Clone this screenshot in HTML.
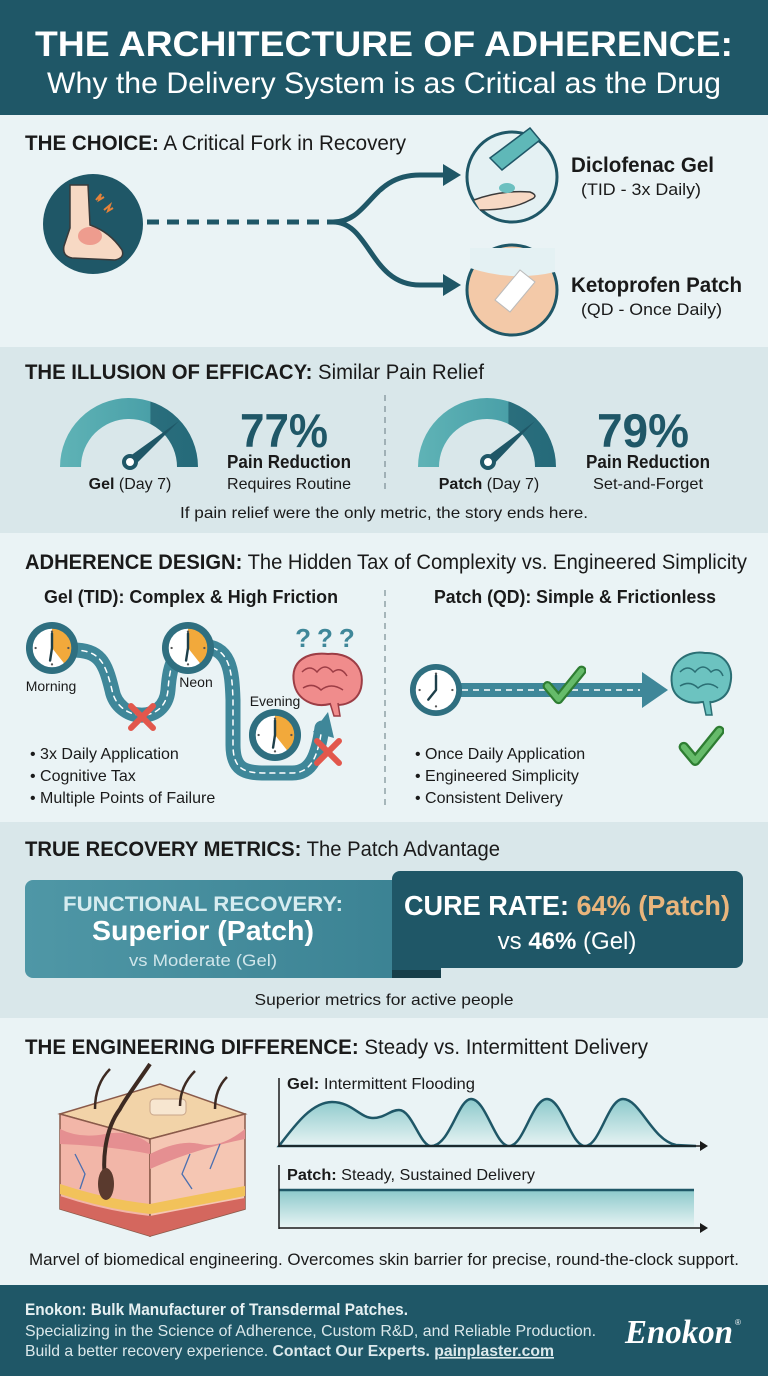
<!DOCTYPE html>
<html><head><meta charset="utf-8"><style>
html,body{margin:0;padding:0;background:#eaf3f5}
svg{display:block}
text{font-family:"Liberation Sans",sans-serif}
</style></head><body>
<svg width="768" height="1376" viewBox="0 0 768 1376" xmlns="http://www.w3.org/2000/svg">
<defs>
<linearGradient id="gg" x1="0" x2="1" y1="0" y2="0"><stop offset="0" stop-color="#5fb3b6"/><stop offset="0.65" stop-color="#4aa0a8"/><stop offset="0.66" stop-color="#2a6e7c"/><stop offset="1" stop-color="#256a7a"/></linearGradient>
<linearGradient id="fillg" x1="0" x2="0" y1="0" y2="1"><stop offset="0" stop-color="#8cc9cb"/><stop offset="1" stop-color="#e6f3f3"/></linearGradient>
<linearGradient id="lb" x1="0" x2="1" y1="0" y2="0"><stop offset="0" stop-color="#4f97a6"/><stop offset="1" stop-color="#3b8293"/></linearGradient>
<symbol id="clk" viewBox="-28 -28 56 56">
<circle r="27" fill="#2f6f80"/><circle r="21" fill="#fff"/>
<path d="M0,0 L0,-21 A21,21 0 0 1 13,16.5 Z" fill="#f2a93b"/>
<circle r="21" fill="none" stroke="#2f6f80" stroke-width="2"/>
<path d="M0,0 L0,-15 M0,0 L-2,13" stroke="#1e3f4a" stroke-width="2.5" stroke-linecap="round"/>
<g fill="#555"><circle cx="0" cy="-17" r="1.2"/><circle cx="17" cy="0" r="1.2"/><circle cx="0" cy="17" r="1.2"/><circle cx="-17" cy="0" r="1.2"/></g>
</symbol>
<symbol id="clkw" viewBox="-28 -28 56 56">
<circle r="27" fill="#2f6f80"/><circle r="21" fill="#fff"/>
<path d="M0,0 L0,-15 M0,0 L-8,10" stroke="#1e3f4a" stroke-width="2.5" stroke-linecap="round"/>
<g fill="#555"><circle cx="0" cy="-17" r="1.2"/><circle cx="17" cy="0" r="1.2"/><circle cx="0" cy="17" r="1.2"/><circle cx="-17" cy="0" r="1.2"/></g>
</symbol>
<symbol id="xx" viewBox="-15 -15 30 30"><path d="M-11,-11 L11,11 M11,-11 L-11,11" stroke="#e2574c" stroke-width="6" stroke-linecap="round"/></symbol>
<symbol id="ck" viewBox="-20 -20 40 40"><path d="M-15,0 L-5,12 L16,-14" fill="none" stroke="#2e7d32" stroke-width="9" stroke-linecap="round" stroke-linejoin="round"/><path d="M-15,0 L-5,12 L16,-14" fill="none" stroke="#66bb6a" stroke-width="5" stroke-linecap="round" stroke-linejoin="round"/></symbol>
</defs>

<rect width="768" height="1376" fill="#eaf3f5"/>
<rect width="768" height="115" fill="#1f5767"/>
<rect x="0" y="347" width="768" height="186" fill="#d9e7ea"/>
<rect x="0" y="822" width="768" height="196" fill="#d9e7ea"/>
<rect x="0" y="1285" width="768" height="91" fill="#1f5767"/>

<text x="384" y="56" text-anchor="middle" font-size="35" font-weight="bold" fill="#fff" textLength="698" lengthAdjust="spacingAndGlyphs">THE ARCHITECTURE OF ADHERENCE:</text>
<text x="384" y="93" text-anchor="middle" font-size="30" fill="#fff" textLength="674" lengthAdjust="spacingAndGlyphs">Why the Delivery System is as Critical as the Drug</text>

<text x="25" y="150" font-size="21" fill="#1a1a1a" textLength="381" lengthAdjust="spacingAndGlyphs"><tspan font-weight="bold">THE CHOICE:</tspan> A Critical Fork in Recovery</text>
<circle cx="93" cy="224" r="50" fill="#1f5767"/>
<path d="M70,185 L88,185 L90,225 Q110,232 122,250 Q125,258 115,260 L72,258 Q62,256 64,246 L70,228 Z" fill="#f7d9c4" stroke="#3a3a3a" stroke-width="1.5"/>
<ellipse cx="90" cy="236" rx="12" ry="9" fill="#e8736a" opacity="0.6"/>
<path d="M96,200 l5,-6 l-2,6 l5,-3 M104,210 l6,-5 l-2,6 l5,-3" stroke="#e5823a" stroke-width="2" fill="none"/>
<line x1="147" y1="222" x2="333" y2="222" stroke="#1f5767" stroke-width="5" stroke-dasharray="12 8"/>
<path d="M333,222 C370,222 370,175 420,175 L445,175 M333,222 C370,222 370,285 420,285 L445,285" fill="none" stroke="#1f5767" stroke-width="5"/>
<polygon points="443,164 461,175 443,186" fill="#1f5767"/>
<polygon points="443,274 461,285 443,296" fill="#1f5767"/>
<circle cx="512" cy="177" r="45" fill="#e4f1f3" stroke="#1f5767" stroke-width="3"/>
<path d="M490,158 L530,128 L540,140 L502,170 Z" fill="#5fb8b8" stroke="#1f5767" stroke-width="1.5"/>
<path d="M474,200 Q500,190 530,192 Q540,196 530,200 Q512,210 480,210" fill="#f7d9c4" stroke="#3a3a3a" stroke-width="1.5"/>
<ellipse cx="507" cy="188" rx="8" ry="5" fill="#6cc0c0"/>
<circle cx="512" cy="290" r="45" fill="#f3c9a8" stroke="#1f5767" stroke-width="3"/>
<path d="M470,268 Q512,282 555,272 L555,248 L470,248 Z" fill="#e4f1f3"/>
<path d="M495,300 L520,270 L535,282 L510,312 Z" fill="#fff" stroke="#bbb"/>
<text x="571" y="172" font-size="21" font-weight="bold" fill="#1a1a1a" textLength="143" lengthAdjust="spacingAndGlyphs">Diclofenac Gel</text>
<text x="581" y="195" font-size="17" fill="#1a1a1a" textLength="120" lengthAdjust="spacingAndGlyphs">(TID - 3x Daily)</text>
<text x="571" y="292" font-size="21" font-weight="bold" fill="#1a1a1a" textLength="171" lengthAdjust="spacingAndGlyphs">Ketoprofen Patch</text>
<text x="581" y="315" font-size="17" fill="#1a1a1a" textLength="141" lengthAdjust="spacingAndGlyphs">(QD - Once Daily)</text>

<text x="25" y="379" font-size="21" fill="#1a1a1a" textLength="459" lengthAdjust="spacingAndGlyphs"><tspan font-weight="bold">THE ILLUSION OF EFFICACY:</tspan> Similar Pain Relief</text>
<path d="M60,467 A69,69 0 0 1 198,467 L177,467 A48,48 0 0 0 81,467 Z" fill="url(#gg)"/>
<polygon points="126,459 179,421 134,466" fill="#1f5767"/>
<circle cx="130" cy="462" r="6" fill="#fff" stroke="#1f5767" stroke-width="4"/>
<text x="130" y="489" text-anchor="middle" font-size="16" fill="#1a1a1a"><tspan font-weight="bold">Gel</tspan> (Day 7)</text>
<text x="284" y="447" text-anchor="middle" font-size="47" font-weight="bold" fill="#1f5767" textLength="88" lengthAdjust="spacingAndGlyphs">77%</text>
<text x="289" y="468" text-anchor="middle" font-size="18" font-weight="bold" fill="#1a1a1a" textLength="124" lengthAdjust="spacingAndGlyphs">Pain Reduction</text>
<text x="289" y="489" text-anchor="middle" font-size="16" fill="#1a1a1a" textLength="124" lengthAdjust="spacingAndGlyphs">Requires Routine</text>
<line x1="385" y1="395" x2="385" y2="492" stroke="#7a8d93" stroke-width="1.2" stroke-dasharray="6 5"/>
<path d="M418,467 A69,69 0 0 1 556,467 L535,467 A48,48 0 0 0 439,467 Z" fill="url(#gg)"/>
<polygon points="484,459 535,421 492,466" fill="#1f5767"/>
<circle cx="488" cy="462" r="6" fill="#fff" stroke="#1f5767" stroke-width="4"/>
<text x="489" y="489" text-anchor="middle" font-size="16" fill="#1a1a1a"><tspan font-weight="bold">Patch</tspan> (Day 7)</text>
<text x="643" y="447" text-anchor="middle" font-size="47" font-weight="bold" fill="#1f5767" textLength="92" lengthAdjust="spacingAndGlyphs">79%</text>
<text x="648" y="468" text-anchor="middle" font-size="18" font-weight="bold" fill="#1a1a1a" textLength="124" lengthAdjust="spacingAndGlyphs">Pain Reduction</text>
<text x="648" y="489" text-anchor="middle" font-size="16" fill="#1a1a1a" textLength="110" lengthAdjust="spacingAndGlyphs">Set-and-Forget</text>
<text x="384" y="518" text-anchor="middle" font-size="16" fill="#1a1a1a" textLength="408" lengthAdjust="spacingAndGlyphs">If pain relief were the only metric, the story ends here.</text>

<text x="25" y="569" font-size="21" fill="#1a1a1a" textLength="722" lengthAdjust="spacingAndGlyphs"><tspan font-weight="bold">ADHERENCE DESIGN:</tspan> The Hidden Tax of Complexity vs. Engineered Simplicity</text>
<text x="191" y="603" text-anchor="middle" font-size="18" font-weight="bold" fill="#1a1a1a" textLength="294" lengthAdjust="spacingAndGlyphs">Gel (TID): Complex &amp; High Friction</text>
<text x="575" y="603" text-anchor="middle" font-size="18" font-weight="bold" fill="#1a1a1a" textLength="282" lengthAdjust="spacingAndGlyphs">Patch (QD): Simple &amp; Frictionless</text>
<line x1="385" y1="590" x2="385" y2="808" stroke="#7a8d93" stroke-width="1.2" stroke-dasharray="6 5"/>
<g fill="none" stroke-linecap="round" stroke-linejoin="round">
<path d="M72,650 C100,650 105,662 112,690 C118,722 165,725 168,690 C170,662 175,648 200,646 C230,646 232,670 233,700 L233,745 C233,770 245,773 265,773 L292,773 C312,773 318,755 322,728" stroke="#3f8799" stroke-width="15"/>
<path d="M72,650 C100,650 105,662 112,690 C118,722 165,725 168,690 C170,662 175,648 200,646 C230,646 232,670 233,700 L233,745 C233,770 245,773 265,773 L292,773 C312,773 318,755 322,728" stroke="#fff" stroke-width="1.5" stroke-dasharray="5 5"/>
</g>
<polygon points="313,732 328,712 334,738" fill="#3f8799"/>
<use href="#clk" x="25" y="621" width="54" height="54"/>
<use href="#clk" x="161" y="621" width="54" height="54"/>
<use href="#clk" x="248" y="708" width="54" height="54"/>
<text x="51" y="691" text-anchor="middle" font-size="14" fill="#1a1a1a">Morning</text>
<text x="196" y="687" text-anchor="middle" font-size="14" fill="#1a1a1a">Neon</text>
<text x="275" y="706" text-anchor="middle" font-size="14" fill="#1a1a1a">Evening</text>
<use href="#xx" x="127" y="702" width="30" height="30"/>
<use href="#xx" x="313" y="737" width="30" height="30"/>
<g>
<path d="M294,683 C290,660 308,652 328,654 C348,652 366,665 361,688 C357,703 342,707 330,704 C314,708 297,700 294,683 Z" fill="#f08c8c" stroke="#9c3d45" stroke-width="2"/>
<path d="M302,672 q8,-8 15,0 q8,-10 16,0 q8,-6 14,4 M303,688 q10,-6 18,2 q10,-8 22,0" fill="none" stroke="#9c3d45" stroke-width="1.5"/>
<path d="M330,703 l4,13 l6,0 l-2,-13" fill="#f08c8c" stroke="#9c3d45" stroke-width="1.5"/>
</g>
<text x="328" y="647" text-anchor="middle" font-size="26" font-weight="bold" fill="#3f8799" letter-spacing="6">???</text>
<g font-size="16" fill="#1a1a1a">
<text x="30" y="759">• 3x Daily Application</text>
<text x="30" y="781">• Cognitive Tax</text>
<text x="30" y="803">• Multiple Points of Failure</text>
<text x="415" y="759">• Once Daily Application</text>
<text x="415" y="781">• Engineered Simplicity</text>
<text x="415" y="803">• Consistent Delivery</text>
</g>
<rect x="460" y="683" width="185" height="14" fill="#3f8799"/>
<polygon points="642,672 668,690 642,708" fill="#3f8799"/>
<line x1="462" y1="690" x2="640" y2="690" stroke="#fff" stroke-width="1.5" stroke-dasharray="6 5"/>
<use href="#clkw" x="409" y="663" width="54" height="54"/>
<use href="#ck" x="542" y="664" width="44" height="44"/>
<g>
<path d="M672,685 C668,660 690,650 705,653 C722,652 735,665 730,685 C727,700 712,704 702,702 C688,705 674,698 672,685 Z" fill="#6cc3c0" stroke="#2b6f74" stroke-width="2"/>
<path d="M680,672 q8,-8 15,0 q8,-10 16,0 q8,-6 12,4 M680,686 q10,-6 18,2 q10,-8 20,0" fill="none" stroke="#2b6f74" stroke-width="1.5"/>
<path d="M703,701 l3,14 l6,0 l-2,-14" fill="#6cc3c0" stroke="#2b6f74" stroke-width="1.5"/>
</g>
<use href="#ck" x="678" y="724" width="46" height="46"/>

<text x="25" y="856" font-size="21" fill="#1a1a1a" textLength="475" lengthAdjust="spacingAndGlyphs"><tspan font-weight="bold">TRUE RECOVERY METRICS:</tspan> The Patch Advantage</text>
<rect x="25" y="880" width="380" height="98" rx="8" fill="url(#lb)"/>
<polygon points="392,960 441,968 441,978 392,978" fill="#173f4a"/>
<rect x="392" y="871" width="351" height="97" rx="8" fill="#1f5767"/>
<rect x="392" y="940" width="49" height="30" fill="#1f5767"/>
<text x="203" y="911" text-anchor="middle" font-size="21" font-weight="bold" fill="#d6ecf0" textLength="280" lengthAdjust="spacingAndGlyphs">FUNCTIONAL RECOVERY:</text>
<text x="203" y="940" text-anchor="middle" font-size="28" font-weight="bold" fill="#fff" textLength="222" lengthAdjust="spacingAndGlyphs">Superior (Patch)</text>
<text x="203" y="966" text-anchor="middle" font-size="17" fill="#cfe5ea" textLength="148" lengthAdjust="spacingAndGlyphs">vs Moderate (Gel)</text>
<text x="567" y="915" text-anchor="middle" font-size="28" font-weight="bold" fill="#fff" textLength="326" lengthAdjust="spacingAndGlyphs">CURE RATE: <tspan fill="#e9b57c">64% (Patch)</tspan></text>
<text x="567" y="949" text-anchor="middle" font-size="24" fill="#fff">vs <tspan font-weight="bold">46%</tspan> (Gel)</text>
<text x="384" y="1005" text-anchor="middle" font-size="16" fill="#1a1a1a" textLength="259" lengthAdjust="spacingAndGlyphs">Superior metrics for active people</text>

<text x="25" y="1054" font-size="21" fill="#1a1a1a" textLength="623" lengthAdjust="spacingAndGlyphs"><tspan font-weight="bold">THE ENGINEERING DIFFERENCE:</tspan> Steady vs. Intermittent Delivery</text>
<g transform="translate(0,4)">
<polygon points="60,1110 160,1080 245,1110 150,1135" fill="#f2d3a8" stroke="#8a5a4a" stroke-width="1.5"/>
<polygon points="60,1110 150,1135 150,1232 60,1205" fill="#f2b6a8" stroke="#8a5a4a" stroke-width="1.5"/>
<polygon points="150,1135 245,1110 245,1205 150,1232" fill="#f5c6b3" stroke="#8a5a4a" stroke-width="1.5"/>
<path d="M60,1125 q20,10 45,5 t45,10 L150,1150 q-40,-8 -90,-10 Z" fill="#e58f91"/>
<path d="M150,1150 q30,-15 50,-10 t45,-15 L245,1135 q-50,10 -95,30 Z" fill="#e58f91"/>
<path d="M60,1180 q45,15 90,20 L150,1210 q-45,-5 -90,-20 Z M150,1200 q50,-10 95,-18 L245,1192 q-50,10 -95,18 Z" fill="#f2c25a"/>
<path d="M60,1192 q45,15 90,20 L150,1232 L60,1205 Z M150,1212 q50,-10 95,-18 L245,1205 L150,1232 Z" fill="#d4675e"/>
<rect x="150" y="1095" width="36" height="16" rx="4" fill="#f7e6d0" stroke="#c8a58a"/>
<path d="M108,1190 C100,1160 105,1125 120,1105 C125,1095 140,1075 150,1060" fill="none" stroke="#3d2a22" stroke-width="4"/>
<ellipse cx="106" cy="1180" rx="8" ry="16" fill="#5a3a2e"/>
<path d="M95,1105 q0,-25 15,-40 M180,1102 q0,-20 15,-35 M215,1105 q0,-20 12,-32" fill="none" stroke="#3d2a22" stroke-width="2.5"/>
<path d="M75,1150 l10,20 l-5,15 M190,1150 l-8,20 l10,15 M220,1140 l-10,25" fill="none" stroke="#4a6fb0" stroke-width="1.3"/>
</g>
<text x="287" y="1089" font-size="16" fill="#1a1a1a" textLength="188" lengthAdjust="spacingAndGlyphs"><tspan font-weight="bold">Gel:</tspan> Intermittent Flooding</text>
<path d="M279,1146 C295,1125 312,1102 332,1102 C352,1102 360,1118 373,1118 C385,1118 390,1110 399,1110 C412,1110 420,1146 431,1146 C450,1146 458,1099 471,1099 C486,1099 495,1146 509,1146 C524,1146 532,1099 547,1099 C562,1099 571,1146 585,1146 C600,1146 608,1099 623,1099 C640,1099 652,1140 676,1145 L696,1146 Z" fill="url(#fillg)" stroke="#1f5767" stroke-width="2.5"/>
<line x1="279" y1="1078" x2="279" y2="1147" stroke="#1a1a1a" stroke-width="1.5"/>
<line x1="279" y1="1146" x2="702" y2="1146" stroke="#1a1a1a" stroke-width="1.5"/>
<polygon points="700,1141 708,1146 700,1151" fill="#1a1a1a"/>
<text x="287" y="1180" font-size="16" fill="#1a1a1a" textLength="248" lengthAdjust="spacingAndGlyphs"><tspan font-weight="bold">Patch:</tspan> Steady, Sustained Delivery</text>
<rect x="279" y="1190" width="415" height="37" fill="url(#fillg)"/>
<line x1="279" y1="1190" x2="694" y2="1190" stroke="#1f5767" stroke-width="2.5"/>
<line x1="279" y1="1165" x2="279" y2="1229" stroke="#1a1a1a" stroke-width="1.5"/>
<line x1="279" y1="1228" x2="702" y2="1228" stroke="#1a1a1a" stroke-width="1.5"/>
<polygon points="700,1223 708,1228 700,1233" fill="#1a1a1a"/>
<text x="384" y="1265" text-anchor="middle" font-size="17" fill="#1a1a1a" textLength="710" lengthAdjust="spacingAndGlyphs">Marvel of biomedical engineering. Overcomes skin barrier for precise, round-the-clock support.</text>

<text x="25" y="1315" font-size="17" font-weight="bold" fill="#e6f0f2" textLength="383" lengthAdjust="spacingAndGlyphs">Enokon: Bulk Manufacturer of Transdermal Patches.</text>
<text x="25" y="1336" font-size="16" fill="#dbe8eb" textLength="571" lengthAdjust="spacingAndGlyphs">Specializing in the Science of Adherence, Custom R&amp;D, and Reliable Production.</text>
<text x="25" y="1356" font-size="16" fill="#dbe8eb" textLength="529" lengthAdjust="spacingAndGlyphs">Build a better recovery experience. <tspan font-weight="bold">Contact Our Experts.</tspan> <tspan font-weight="bold" text-decoration="underline">painplaster.com</tspan></text>
<text x="625" y="1343" style="font-family:'Liberation Serif',serif" font-size="34" font-style="italic" font-weight="bold" fill="#fff" textLength="108" lengthAdjust="spacingAndGlyphs">Enokon</text>
<text x="735" y="1325" font-size="8" fill="#fff">®</text>
</svg>
</body></html>
